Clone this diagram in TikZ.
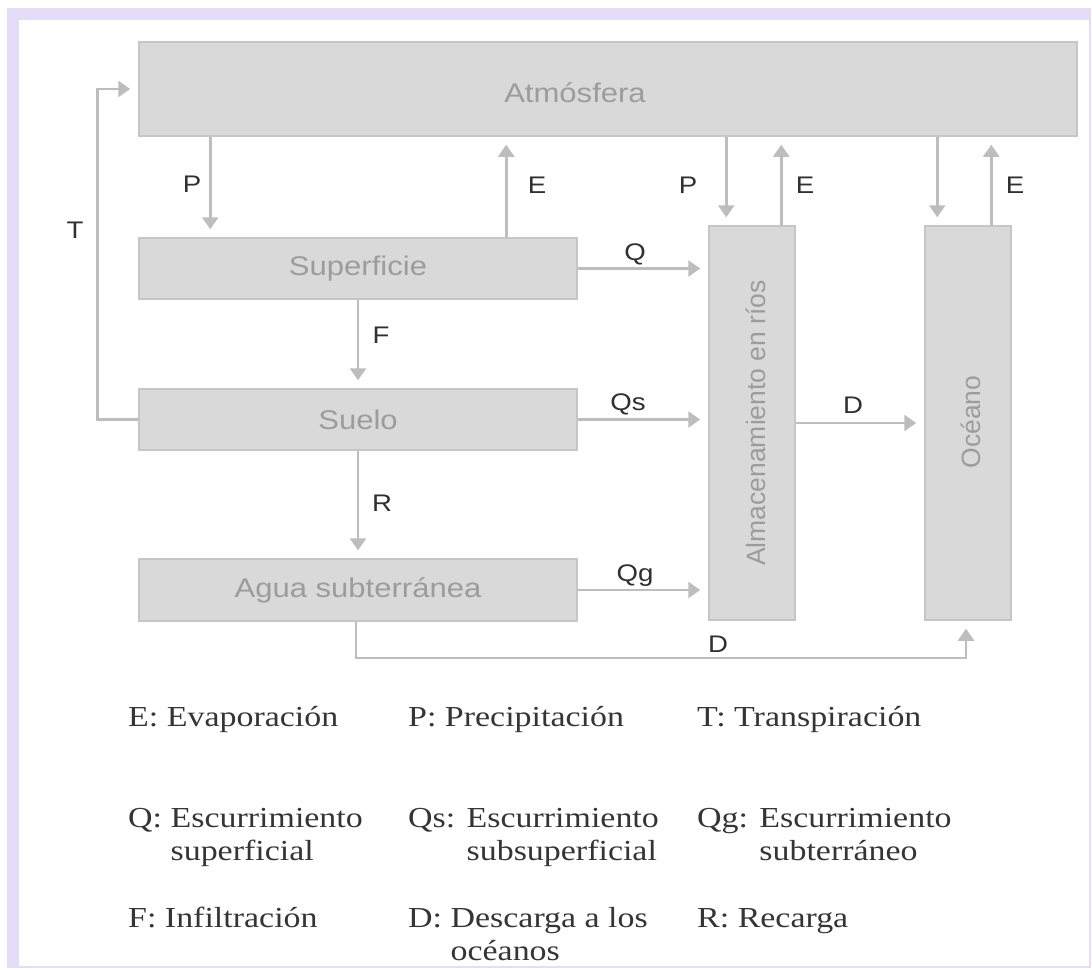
\documentclass[tikz,border=0pt]{standalone}
\usepackage{fontspec}
\setmainfont{Liberation Serif}[FakeStretch=1.17]
\setsansfont{Liberation Sans}[FakeStretch=1.15]
\newfontfamily\rotsans{Liberation Sans}
\usetikzlibrary{arrows.meta}
\usetikzlibrary{calc}
\definecolor{framecol}{HTML}{E3DDFA}
\definecolor{boxfill}{HTML}{D9D9D9}
\definecolor{boxline}{HTML}{C6C6C6}
\definecolor{boxtext}{HTML}{9C9C9C}
\definecolor{flowline}{HTML}{BDBDBD}
\definecolor{ratetext}{HTML}{303030}
\definecolor{legendtext}{HTML}{353535}
\tikzset{
    box/.style={draw=boxline, fill=boxfill, line width=1.5pt, inner sep=0pt},
    boxlabel/.style={text=boxtext, inner sep=0pt, font=\sffamily\fontsize{27}{30}\selectfont},
    vlabel/.style={text=boxtext, inner sep=0pt, rotate=90, font=\rotsans\fontsize{26.5}{30}\selectfont},
    flow/.style={draw=flowline, line width=2.5pt, shorten >=8pt,
        -{Triangle[length=12pt,width=16pt]}},
    rate/.style={text=ratetext, inner sep=0pt, font=\sffamily\fontsize{24}{28}\selectfont},
    % base west of a two-line entry sits on its second line
    legend/.style={anchor=base west, align=left, inner sep=0pt, text=legendtext,
        font=\rmfamily\fontsize{29}{33}\selectfont},
}

\begin{document}
\begin{tikzpicture}[x=1pt,y=-1pt]
\useasboundingbox (0,0) rectangle (1092,969);
\fill[white] (0,0) rectangle (1092,969);
\fill[framecol] (7,8) rectangle (1091,968);
\fill[white] (19,20) rectangle (1089,966);

% compartments
\node[box, minimum width=938pt, minimum height=94pt] (atm) at (608,89) {};
\node[boxlabel] (atmtext) at (575,93) {Atmósfera};
\node[box, boxlabel, minimum width=438pt, minimum height=61pt] (sup) at (358,268.5) {Superficie};
\node[box, boxlabel, minimum width=438pt, minimum height=61pt] (suelo) at (358,419.5) {Suelo};
\node[box, boxlabel, minimum width=438pt, minimum height=62pt] (agua) at (358,590) {Agua subterránea};
\node[box, minimum width=86pt, minimum height=394pt] (rios) at (752,423) {};
\node[vlabel] (riostext) at (756,423) {Almacenamiento en ríos};
\node[box, minimum width=86pt, minimum height=394pt] (oceano) at (968,423) {};
\node[vlabel] (oceanotext) at (971,422) {Océano};

% fluxes
\draw[flow] ([xshift=72pt]sup.north west |- atm.south) -- ([xshift=72pt]sup.north west);
\draw[flow] ([xshift=368pt]sup.north west) -- ([xshift=368pt]sup.north west |- atm.south);
\draw[flow] (suelo.west) -- ++(-41,0) |- (atm.west);
\draw[flow] ([xshift=18pt]rios.north west |- atm.south) -- ([xshift=18pt]rios.north west);
\draw[flow] ([xshift=73pt]rios.north west) -- ([xshift=73pt]rios.north west |- atm.south);
\draw[flow] ([xshift=13pt]oceano.north west |- atm.south) -- ([xshift=13pt]oceano.north west);
\draw[flow] ([xshift=67pt]oceano.north west) -- ([xshift=67pt]oceano.north west |- atm.south);
\draw[flow] (sup.east) -- (sup.east -| rios.west);
\draw[flow] (suelo.east) -- (suelo.east -| rios.west);
\draw[flow] (agua.east) -- (agua.east -| rios.west);
\draw[flow] (sup.south) -- (suelo.north);
\draw[flow] (suelo.south) -- (agua.north);
\draw[flow] (rios.east) -- (oceano.west);
\draw[flow] ([xshift=-2pt]agua.south) -- ++(0,36) -| ([xshift=-2pt]oceano.south);

\node[rate] (lP1) at (192,184) {P};
\node[rate] (lE1) at (537,185) {E};
\node[rate] (lT) at (75,230) {T};
\node[rate] (lP2) at (688,185) {P};
\node[rate] (lE2) at (805,185) {E};
\node[rate] (lE3) at (1015,185) {E};
\node[rate] (lQ) at (635,254) {Q};
\node[rate] (lQs) at (628,404) {Qs};
\node[rate] (lQg) at (635,576) {Qg};
\node[rate] (lF) at (381,335) {F};
\node[rate] (lR) at (382,503) {R};
\node[rate] (lD1) at (853,405) {D};
\node[rate] (lD2) at (718,644) {D};

% legend
\node[legend] (legE) at (128,726) {E: Evaporación};
\node[legend] (legP) at (408,726) {P: Precipitación};
\node[legend] (legT) at (697,726) {T: Transpiración};
\node[legend] (legQ) at (128,860) {Q: Escurrimiento\\\phantom{Q: }superficial};
\node[legend] (legQs) at (408,860) {Qs: Escurrimiento\\\phantom{Qs: }subsuperficial};
\node[legend] (legQg) at (697,860) {Qg: Escurrimiento\\\phantom{Qg: }subterráneo};
\node[legend] (legF) at (128,927) {F: Infiltración};
\node[legend] (legD) at (408,960) {D: Descarga a los\\\phantom{D: }océanos};
\node[legend] (legR) at (697,927) {R: Recarga};
\end{tikzpicture}
\end{document}
